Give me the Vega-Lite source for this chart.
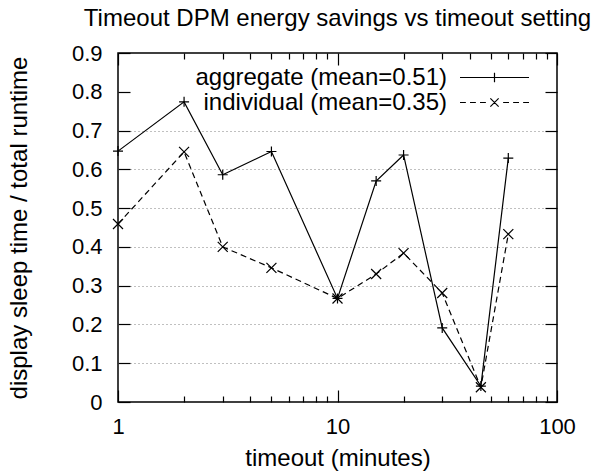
{
  "$schema": "https://vega.github.io/schema/vega-lite/v6.json",
  "width": 439,
  "height": 349,
  "autosize": {"type": "none"},
  "padding": {"left": 118, "top": 53, "right": 38, "bottom": 73},
  "title": {
    "text": "Timeout DPM energy savings vs timeout setting",
    "font": "Liberation Sans",
    "fontSize": 24,
    "fontWeight": "normal",
    "color": "black",
    "anchor": "middle",
    "frame": "group",
    "baseline": "alphabetic",
    "offset": -8
  },
  "config": {
    "view": {"stroke": "black", "strokeWidth": 1.5},
    "font": "Liberation Sans",
    "axis": {
      "labelFont": "Liberation Sans",
      "titleFont": "Liberation Sans",
      "labelColor": "black",
      "titleColor": "black",
      "tickColor": "black",
      "tickWidth": 1.2,
      "domain": false,
      "grid": false,
      "titleFontWeight": "normal",
      "labelFlush": false,
      "labelOverlap": false,
      "labelBound": false
    }
  },
  "data": {
    "values": [
      {"t": 1, "v": 0.647, "series": "aggregate (mean=0.51)"},
      {"t": 2, "v": 0.774, "series": "aggregate (mean=0.51)"},
      {"t": 3, "v": 0.586, "series": "aggregate (mean=0.51)"},
      {"t": 5, "v": 0.646, "series": "aggregate (mean=0.51)"},
      {"t": 10, "v": 0.267, "series": "aggregate (mean=0.51)"},
      {"t": 15, "v": 0.570, "series": "aggregate (mean=0.51)"},
      {"t": 20, "v": 0.637, "series": "aggregate (mean=0.51)"},
      {"t": 30, "v": 0.191, "series": "aggregate (mean=0.51)"},
      {"t": 45, "v": 0.041, "series": "aggregate (mean=0.51)"},
      {"t": 60, "v": 0.629, "series": "aggregate (mean=0.51)"},
      {"t": 1, "v": 0.459, "series": "individual (mean=0.35)"},
      {"t": 2, "v": 0.645, "series": "individual (mean=0.35)"},
      {"t": 3, "v": 0.400, "series": "individual (mean=0.35)"},
      {"t": 5, "v": 0.346, "series": "individual (mean=0.35)"},
      {"t": 10, "v": 0.267, "series": "individual (mean=0.35)"},
      {"t": 15, "v": 0.330, "series": "individual (mean=0.35)"},
      {"t": 20, "v": 0.384, "series": "individual (mean=0.35)"},
      {"t": 30, "v": 0.281, "series": "individual (mean=0.35)"},
      {"t": 45, "v": 0.038, "series": "individual (mean=0.35)"},
      {"t": 60, "v": 0.433, "series": "individual (mean=0.35)"}
    ]
  },
  "layer": [
    {
      "transform": [{"filter": "datum.series === 'aggregate (mean=0.51)'"}],
      "mark": {"type": "line", "color": "black", "strokeWidth": 1.2},
      "encoding": {
        "x": {
          "field": "t", "type": "quantitative",
          "scale": {"type": "log", "domain": [1, 100], "nice": false},
          "axis": {
            "orient": "bottom", "values": [1, 10, 100], "format": "d",
            "tickSize": -12, "labelFontSize": 22, "labelPadding": 26,
            "title": "timeout (minutes)", "titleFontSize": 24, "titlePadding": 9
          }
        },
        "y": {
          "field": "v", "type": "quantitative",
          "scale": {"domain": [0, 0.9], "nice": false, "zero": false},
          "axis": {
            "orient": "left", "values": [0, 0.1, 0.2, 0.3, 0.4, 0.5, 0.6, 0.7, 0.8, 0.9],
            "format": ".1~f", "tickSize": -12, "labelFontSize": 22, "labelPadding": 28,
            "title": "display sleep time / total runtime", "titleFontSize": 24, "titlePadding": 40
          }
        }
      }
    },
    {
      "transform": [{"filter": "datum.series === 'individual (mean=0.35)'"}],
      "mark": {"type": "line", "color": "black", "strokeWidth": 1.2, "strokeDash": [6, 4]},
      "encoding": {
        "x": {
          "field": "t", "type": "quantitative",
          "scale": {"type": "log", "domain": [1, 100], "nice": false},
          "axis": {"orient": "top", "values": [1, 10, 100], "labels": false, "tickSize": -12, "title": null}
        },
        "y": {
          "field": "v", "type": "quantitative",
          "scale": {"domain": [0, 0.9], "nice": false, "zero": false},
          "axis": {
            "orient": "right", "values": [0, 0.1, 0.2, 0.3, 0.4, 0.5, 0.6, 0.7, 0.8, 0.9],
            "labels": false, "tickSize": -12, "title": null
          }
        }
      }
    },
    {
      "transform": [{"filter": "datum.series === 'aggregate (mean=0.51)'"}],
      "mark": {"type": "point", "shape": "M-1,0H1M0,-1V1", "size": 100, "filled": false, "stroke": "black", "strokeWidth": 1.2, "opacity": 1},
      "encoding": {
        "x": {
          "field": "t", "type": "quantitative",
          "scale": {"type": "log", "domain": [1, 100], "nice": false},
          "axis": {"orient": "bottom", "values": [2, 3, 4, 5, 6, 7, 8, 9, 20, 30, 40, 50, 60, 70, 80, 90], "labels": false, "tickSize": -6, "title": null}
        },
        "y": {
          "field": "v", "type": "quantitative",
          "scale": {"domain": [0, 0.9], "nice": false, "zero": false},
          "axis": {
            "orient": "left", "values": [0.1, 0.2, 0.3, 0.4, 0.5, 0.6, 0.7],
            "labels": false, "ticks": false, "title": null,
            "grid": true, "gridColor": "#808080", "gridDash": [1, 3], "gridWidth": 1
          }
        }
      }
    },
    {
      "transform": [{"filter": "datum.series === 'individual (mean=0.35)'"}],
      "mark": {"type": "point", "shape": "M-1,-1L1,1M-1,1L1,-1", "size": 100, "filled": false, "stroke": "black", "strokeWidth": 1.2, "opacity": 1},
      "encoding": {
        "x": {
          "field": "t", "type": "quantitative",
          "scale": {"type": "log", "domain": [1, 100], "nice": false},
          "axis": {"orient": "top", "values": [2, 3, 4, 5, 6, 7, 8, 9, 20, 30, 40, 50, 60, 70, 80, 90], "labels": false, "tickSize": -6, "title": null}
        },
        "y": {
          "field": "v", "type": "quantitative",
          "scale": {"domain": [0, 0.9], "nice": false, "zero": false},
          "axis": null
        }
      }
    },
    {
      "transform": [{"filter": "false"}],
      "mark": {"type": "point", "filled": false, "color": "black"},
      "encoding": {
        "x": {"field": "t", "type": "quantitative", "scale": {"type": "log", "domain": [1, 100], "nice": false}, "axis": null},
        "y": {"field": "v", "type": "quantitative", "scale": {"domain": [0, 0.9], "nice": false, "zero": false}, "axis": null},
        "shape": {
          "field": "series", "type": "nominal",
          "scale": {
            "domain": ["aggregate (mean=0.51)", "individual (mean=0.35)"],
            "range": [
              "M-3,0H3M0,-0.42V0.42",
              "M-3,0H-2.49M-2.13,0H-1.62M-1.26,0H-0.75M-0.36,-0.36L0.36,0.36M-0.36,0.36L0.36,-0.36M0.75,0H1.26M1.62,0H2.13M2.49,0H3"
            ]
          },
          "legend": {
            "orient": "none", "legendX": 364, "legendY": 12, "title": null,
            "symbolSize": 529, "symbolStrokeColor": "black", "symbolFillColor": "transparent",
            "symbolStrokeWidth": 1.2, "symbolOpacity": 1,
            "labelFont": "Liberation Sans", "labelFontSize": 24, "labelColor": "black",
            "labelAlign": "right", "labelOffset": -60, "labelLimit": 500,
            "rowPadding": 0, "padding": 0
          }
        }
      }
    }
  ],
  "resolve": {"axis": {"x": "independent", "y": "independent"}}
}
